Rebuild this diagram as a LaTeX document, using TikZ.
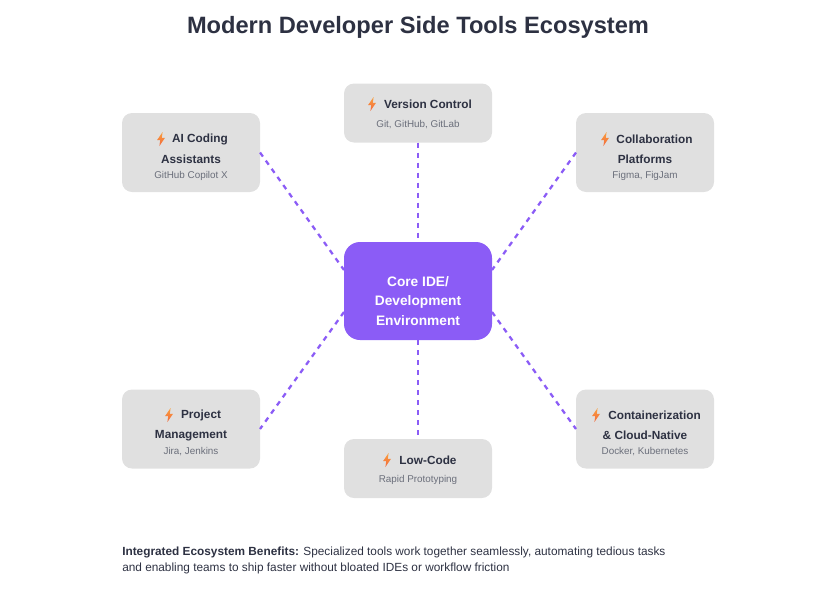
\documentclass[tikz,border=0pt]{standalone}
\usepackage{fontspec}
\setmainfont{Liberation Sans}
\definecolor{ink}{HTML}{2D3142}
\definecolor{boxgray}{HTML}{E0E0E0}
\definecolor{subgray}{HTML}{6B6F7B}
\definecolor{violet}{HTML}{8B5CF6}
\definecolor{boltA}{HTML}{F9A03F}
\definecolor{boltB}{HTML}{F2683C}
\tikzset{
  px/.style={x=0.75pt,y=-0.75pt},
  toolbox/.style={draw=none,fill=boxgray,rounded corners=7.5pt,minimum width=103.5pt,inner sep=0pt,outer sep=0pt},
  corebox/.style={draw=none,fill=violet,rounded corners=12pt,minimum width=111pt,minimum height=73.5pt,inner sep=0pt,outer sep=0pt},
  widebox/.style={toolbox,minimum width=111pt},
  tall/.style={minimum height=59.25pt},
  short/.style={minimum height=44.25pt},
  head/.style={font=\bfseries\fontsize{8.85}{11}\selectfont,text=ink,inner sep=0pt},
  subt/.style={font=\fontsize{7.4}{9}\selectfont,text=subgray,inner sep=0pt},
  coretext/.style={font=\bfseries\fontsize{10.3}{12}\selectfont,text=white,inner sep=0pt},
  link/.style={draw=violet,line width=1.7pt,dash pattern=on 3.75pt off 3.75pt},
  bolt/.pic={\shade[top color=boltA,bottom color=boltB] (1.6,-7) -- (-4,1.2) -- (-0.8,1.2) -- (-1.6,7) -- (4,-1.2) -- (0.8,-1.2) -- cycle;}
}
\begin{document}
\begin{tikzpicture}[px]
\useasboundingbox (0,0) rectangle (834,604);
\node[font=\bfseries\fontsize{17.73}{22}\selectfont,text=ink,inner sep=0pt] (title) at (418,27) {Modern Developer Side Tools Ecosystem};

\node[toolbox,tall] (ai) at (191,152.5) {};
\node[widebox,short] (vc) at (418,113) {};
\node[toolbox,tall] (co) at (645,152.5) {};
\node[toolbox,tall] (pm) at (191,429) {};
\node[widebox,short] (lc) at (418,468.5) {};
\node[toolbox,tall] (cn) at (645,429) {};
\node[corebox] (core) at (418,291) {};

\draw[link] (ai.east) -- ([yshift=15.75pt]core.west);
\draw[link] (vc.south) -- (core.north);
\draw[link] (co.west) -- ([yshift=15.75pt]core.east);
\draw[link] ([yshift=-15.75pt]core.west) -- (pm.east);
\draw[link] (core.south) -- (lc.north);
\draw[link] ([yshift=-15.75pt]core.east) -- (cn.west);

\node[coretext] (c1) at (418,281.5) {Core IDE/};
\node[coretext] (c2) at (418,301.5) {Development};
\node[coretext] (c3) at (418,321) {Environment};

\pic at (161,139) {bolt};
\node[head] (ai1) at (200,139.5) {AI Coding};
\node[head] (ai2) at (191,159) {Assistants};
\node[subt] (ai3) at (191,175.5) {GitHub Copilot X};

\pic at (372,104) {bolt};
\node[head] (vc1) at (428,104) {Version Control};
\node[subt] (vc2) at (418,125) {Git, GitHub, GitLab};

\pic at (605,139) {bolt};
\node[head] (co1) at (654.5,139) {Collaboration};
\node[head] (co2) at (645,159) {Platforms};
\node[subt] (co3) at (645,175.5) {Figma, FigJam};

\pic at (169,415) {bolt};
\node[head] (pm1) at (201,415.5) {Project};
\node[head] (pm2) at (191,435.5) {Management};
\node[subt] (pm3) at (191,451.5) {Jira, Jenkins};

\pic at (387,460) {bolt};
\node[head] (lc1) at (428,460) {Low-Code};
\node[subt] (lc2) at (418,480) {Rapid Prototyping};

\pic at (596,415) {bolt};
\node[head] (cn1) at (654.5,415) {Containerization};
\node[head] (cn2) at (645,435) {\& Cloud-Native};
\node[subt] (cn3) at (645,451.5) {Docker, Kubernetes};

\node[anchor=north west,align=left,inner sep=0pt,text=ink,font=\fontsize{8.87}{12}\selectfont] (note) at (122,547)
 {\textbf{Integrated Ecosystem Benefits:} Specialized tools work together seamlessly, automating tedious tasks\\and enabling teams to ship faster without bloated IDEs or workflow friction};
\end{tikzpicture}
\end{document}
